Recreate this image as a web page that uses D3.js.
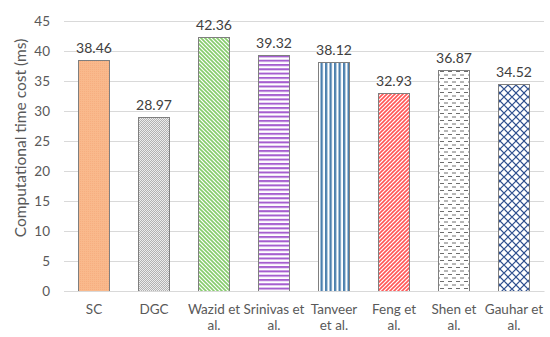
<!DOCTYPE html>
<html>
<head>
<meta charset="utf-8">
<script src="https://cdn.jsdelivr.net/npm/d3@7"></script>
<style>
  body { margin: 0; background: #fff; }
  text { font-family: Lato, "Liberation Sans", sans-serif; }
</style>
</head>
<body>
<div id="chart"></div>
<script>
// chart values
var categories = ["SC", "DGC", "Wazid et al.", "Srinivas et al.", "Tanveer et al.", "Feng et al.", "Shen et al.", "Gauhar et al."];
var values = [38.46, 28.97, 42.36, 39.32, 38.12, 32.93, 36.87, 34.52];
var yTicks = [0, 5, 10, 15, 20, 25, 30, 35, 40, 45];
// category labels as they wrap in the picture
var tickLines = [["SC"], ["DGC"], ["Wazid et", "al."], ["Srinivas et", "al."], ["Tanveer", "et al."],
                 ["Feng et", "al."], ["Shen et", "al."], ["Gauhar et", "al."]];
var fills = ["sc", "dgc", "wazid", "srinivas", "tanveer", "feng", "shen", "gauhar"];

var W = 550, H = 337;
var margin = {top: 21, right: 6, bottom: 46, left: 64},
    width = W - margin.left - margin.right,
    height = H - margin.top - margin.bottom;

var svg = d3.select("#chart").append("svg")
    .attr("width", W)
    .attr("height", H);

// patterns for the bar fills
var defs = svg.append("defs");

function pattern(id, w, h) {
  var p = defs.append("pattern")
      .attr("id", id)
      .attr("patternUnits", "userSpaceOnUse")
      .attr("width", w)
      .attr("height", h);
  p.append("rect").attr("width", w).attr("height", h).attr("fill", "#fff");
  return p;
}

var p;
p = pattern("sc", 2, 2);
p.select("rect").attr("fill", "#F9B98C");
p.append("rect").attr("width", 1).attr("height", 1).attr("fill", "#F6AE80");

p = pattern("dgc", 2, 2);
p.select("rect").attr("fill", "#EDEDED");
p.append("rect").attr("width", 1).attr("height", 1).attr("fill", "#B2B2B2");
p.append("rect").attr("x", 1).attr("y", 1).attr("width", 1).attr("height", 1).attr("fill", "#B2B2B2");

p = pattern("wazid", 4, 4);
p.append("path").attr("d", "M-1,-1 L5,5 M-1,3 L1,5 M3,-1 L5,1")
    .attr("stroke", "#86CC6C").attr("stroke-width", 1.6);

p = pattern("srinivas", 4, 4.3);
p.append("rect").attr("y", 0).attr("width", 4).attr("height", 2).attr("fill", "#A55ECF");

p = pattern("tanveer", 4.5, 4);
p.append("rect").attr("x", 0).attr("width", 2.3).attr("height", 4).attr("fill", "#4B7FAE");

p = pattern("feng", 4, 4);
p.append("path").attr("d", "M-1,5 L5,-1 M-1,1 L1,-1 M3,5 L5,3")
    .attr("stroke", "#FF5757").attr("stroke-width", 1.6);

p = pattern("shen", 8, 7);
p.append("path").attr("d", "M0,1.5 L4,1.5 M4,5 L8,5")
    .attr("stroke", "#6E6E6E").attr("stroke-width", 1);

p = pattern("gauhar", 8, 8);
p.append("path").attr("d", "M0,4 L4,0 M4,8 L8,4 M0,4 L2,6 M4,0 L6,2 M4,8 L2,6 M8,4 L6,2")
    .attr("stroke", "#2E4F8E").attr("stroke-width", 1.1).attr("fill", "none");

var g = svg.append("g")
    .attr("transform", "translate(" + margin.left + "," + margin.top + ")");

// scales
var x = d3.scaleBand()
    .domain(categories)
    .range([0, width])
    .paddingInner(0.48)
    .paddingOuter(0.24);
var y = d3.scaleLinear()
    .domain([0, 45])
    .range([height, 0]);

// gridlines
g.append("g")
  .selectAll("line")
  .data(yTicks)
  .enter().append("line")
    .attr("x1", 0)
    .attr("x2", width)
    .attr("y1", function(d) { return Math.round(y(d)) + 0.5; })
    .attr("y2", function(d) { return Math.round(y(d)) + 0.5; })
    .attr("stroke", "#D9D9D9")
    .attr("stroke-width", 1);

// y axis labels
var yAxis = g.append("g")
    .call(d3.axisLeft(y).tickValues(yTicks).tickSize(0).tickPadding(14));
yAxis.select(".domain").remove();
yAxis.selectAll("text")
    .style("font-family", "Lato, 'Liberation Sans', sans-serif")
    .style("font-size", "13.5px")
    .attr("fill", "#595959");

// bars
g.selectAll(".bar")
    .data(values)
  .enter().append("rect")
    .attr("class", "bar")
    .attr("x", function(d, i) { return Math.round(x(categories[i])) + 0.5; })
    .attr("width", Math.round(x.bandwidth()))
    .attr("y", function(d) { return Math.round(y(d)) + 0.5; })
    .attr("height", function(d) { return Math.round(height - y(d)); })
    .attr("fill", function(d, i) { return "url(#" + fills[i] + ")"; })
    .attr("stroke", "#7F7F7F")
    .attr("stroke-width", 1);

// value labels
g.selectAll(".val")
    .data(values)
  .enter().append("text")
    .attr("class", "val")
    .attr("x", function(d, i) { return x(categories[i]) + x.bandwidth() / 2; })
    .attr("y", function(d) { return y(d) - 7; })
    .attr("text-anchor", "middle")
    .style("font-size", "14px")
    .attr("fill", "#404040")
    .text(function(d) { return d.toFixed(2); });

// x axis
var xAxis = g.append("g")
    .attr("transform", "translate(0," + height + ")")
    .call(d3.axisBottom(x).tickSize(0).tickPadding(13));
xAxis.select(".domain").attr("stroke", "#D9D9D9");
xAxis.selectAll("text")
    .style("font-family", "Lato, 'Liberation Sans', sans-serif")
    .style("font-size", "13.5px")
    .attr("fill", "#595959")
    .each(function(d, i) {
      var text = d3.select(this),
          yy = text.attr("y");
      text.text(null);
      tickLines[i].forEach(function(l, k) {
        text.append("tspan")
            .attr("x", 0)
            .attr("y", yy)
            .attr("dy", (0.71 + k * 1.25) + "em")
            .text(l);
      });
    });

// y axis title
svg.append("text")
    .attr("transform", "translate(21," + 138 + ") rotate(-90)")
    .attr("text-anchor", "middle")
    .attr("dy", "0.35em")
    .style("font-size", "15.5px")
    .attr("fill", "#595959")
    .text("Computational time cost (ms)");
</script>
</body>
</html>
